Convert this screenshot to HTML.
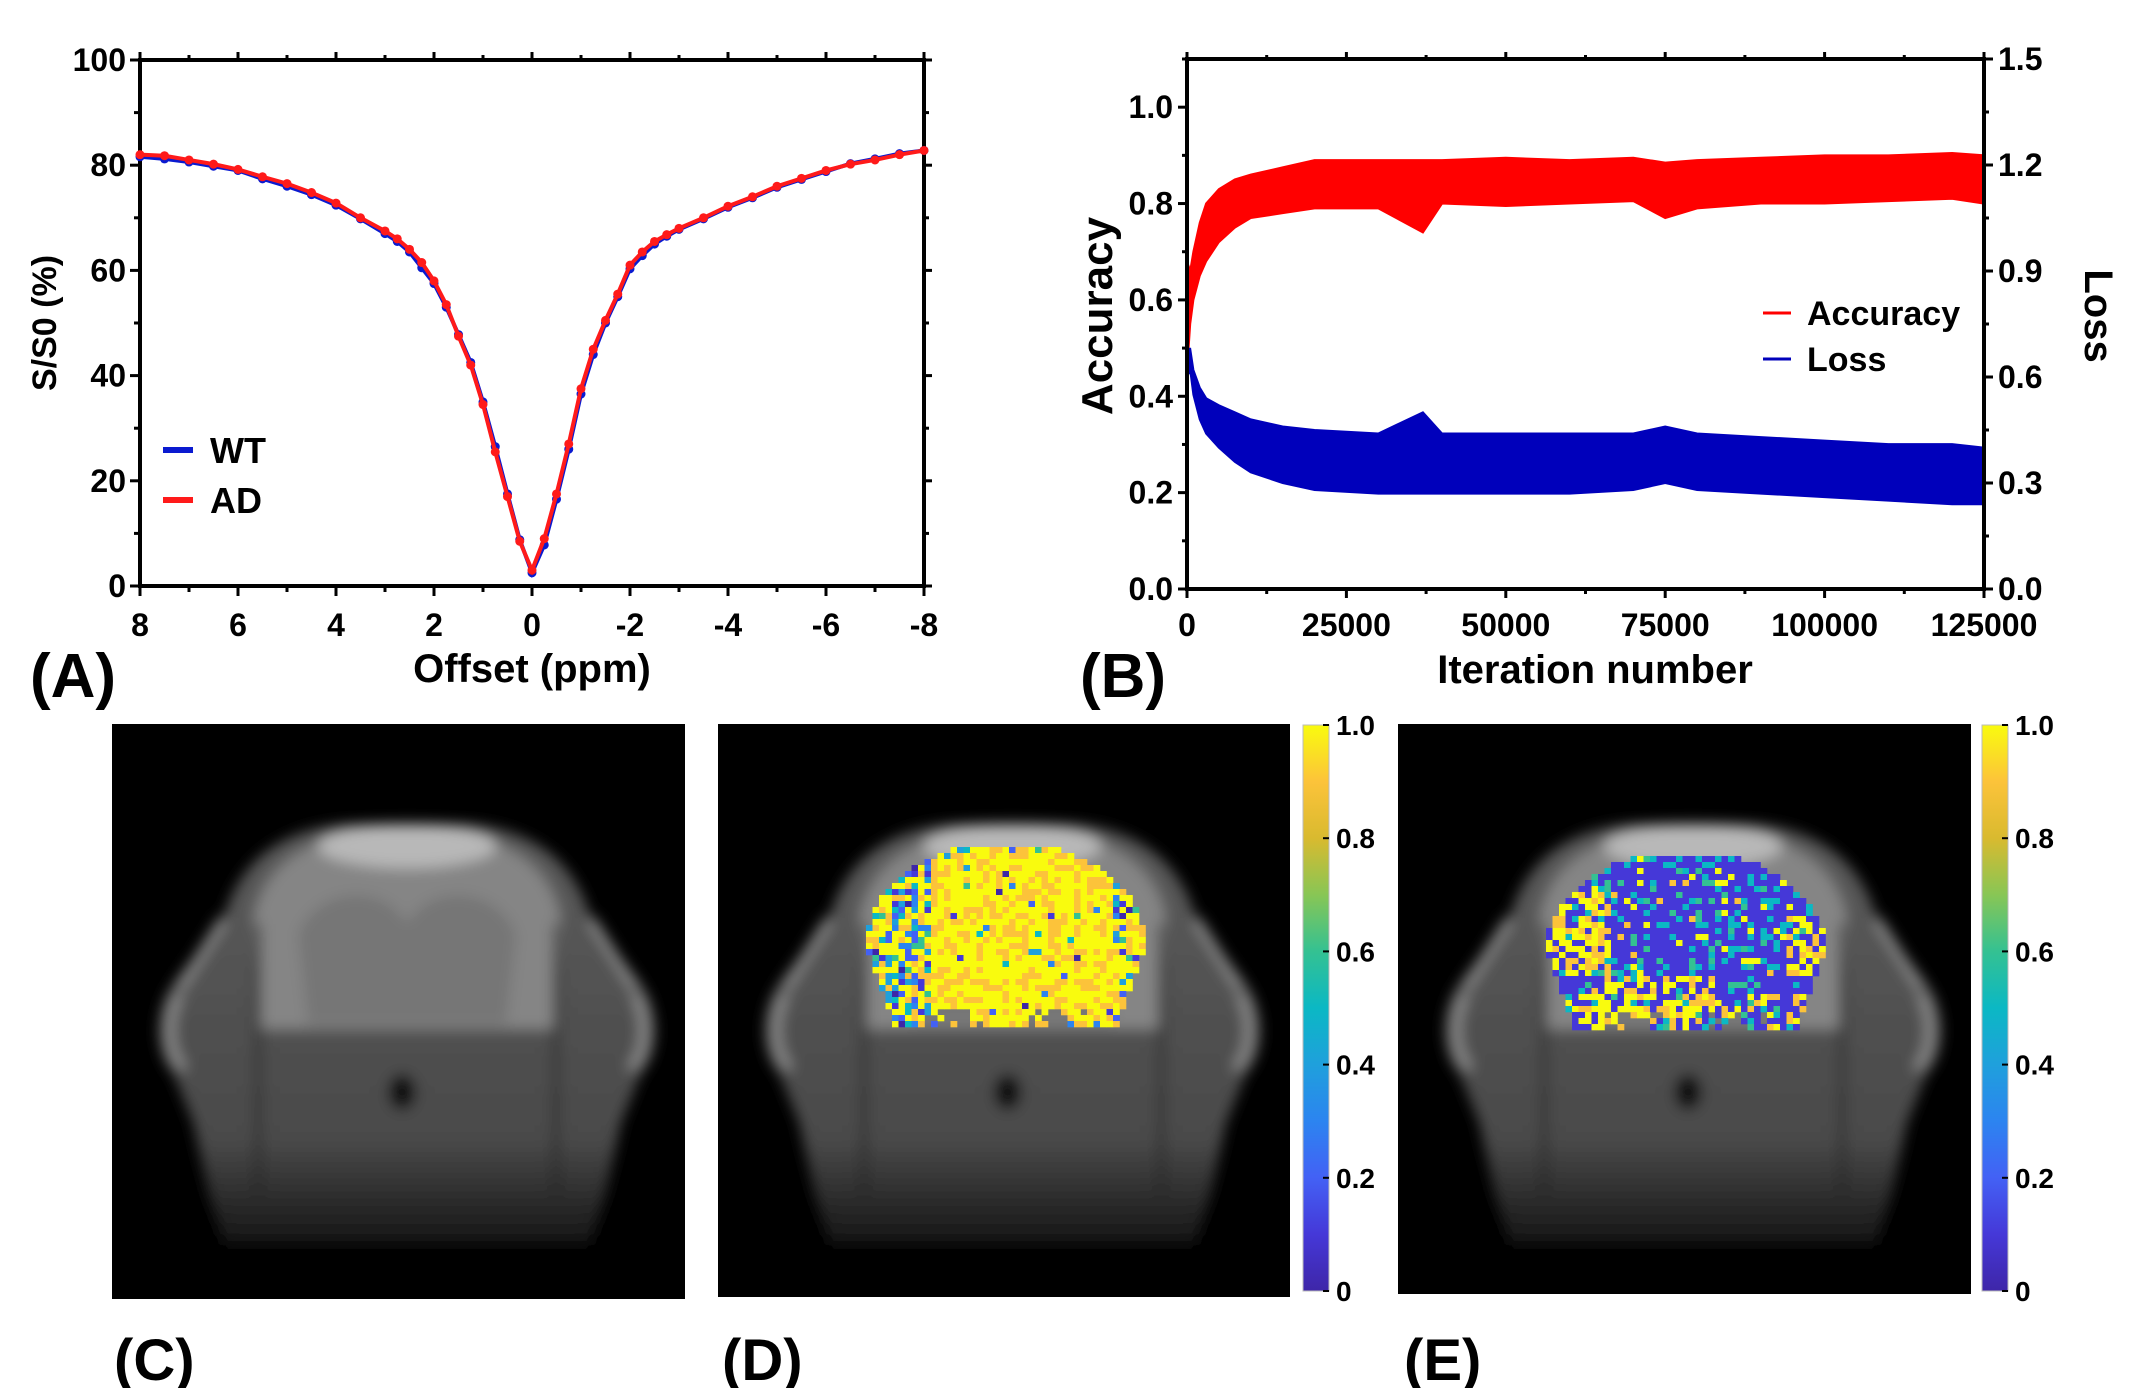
<!DOCTYPE html>
<html><head><meta charset="utf-8"><style>
html,body{margin:0;padding:0;background:#fff;}
svg text{font-family:"Liberation Sans",Arial,sans-serif;font-weight:bold;fill:#000;}
</style></head><body>
<svg id="fig" xmlns="http://www.w3.org/2000/svg" width="2133" height="1388" viewBox="0 0 2133 1388">
<defs>
<filter id="blur6"><feGaussianBlur stdDeviation="7"/></filter>
<linearGradient id="parula" x1="0" y1="1" x2="0" y2="0">
<stop offset="0" stop-color="#3e26a8"/><stop offset="0.1" stop-color="#4538d8"/><stop offset="0.2" stop-color="#4361f5"/>
<stop offset="0.3" stop-color="#2c84f0"/><stop offset="0.4" stop-color="#1fa0dc"/><stop offset="0.5" stop-color="#0bb8c4"/>
<stop offset="0.6" stop-color="#34c192"/><stop offset="0.7" stop-color="#88c655"/><stop offset="0.8" stop-color="#d9ba2f"/>
<stop offset="0.9" stop-color="#fcc33a"/><stop offset="1" stop-color="#f9fb0e"/></linearGradient>
<linearGradient id="bodyfade" x1="0" y1="0" x2="0" y2="1">
<stop offset="0" stop-color="#5a5a5a"/><stop offset="0.75" stop-color="#4a4a4a"/><stop offset="1" stop-color="#151515"/></linearGradient>
</defs>
<g id="panelA"></g>
<g id="panelB"></g>
<g id="bottom"></g>
</svg>
<script>
const NS="http://www.w3.org/2000/svg";
function mk(parent,tag,attrs,txt){const e=document.createElementNS(NS,tag);for(const k in attrs)e.setAttribute(k,attrs[k]);if(txt!==undefined)e.textContent=txt;parent.appendChild(e);return e;}

// ---------- Panel A data ----------
const offsets=[8,7.5,7,6.5,6,5.5,5,4.5,4,3.5,3,2.75,2.5,2.25,2,1.75,1.5,1.25,1,0.75,0.5,0.25,0,-0.25,-0.5,-0.75,-1,-1.25,-1.5,-1.75,-2,-2.25,-2.5,-2.75,-3,-3.5,-4,-4.5,-5,-5.5,-6,-6.5,-7,-7.5,-8];
const adValues=[82,81.8,81,80.2,79.2,77.8,76.5,74.8,72.8,70,67.5,66,64,61.5,58,53.5,47.5,42,34.5,25.5,17,8.5,3,9,17.5,27,37.5,45,50.5,55.5,61,63.5,65.5,66.8,68,70,72.2,74,76,77.5,79,80.2,81,82,82.8];
const wtValues=[81.6,81.2,80.6,79.8,79,77.4,76,74.4,72.4,69.8,67,65.5,63.5,60.5,57.5,53,47.8,42.5,35,26.5,17.5,8.8,2.5,7.8,16.5,26,36.5,44,50,55,60.3,62.8,65,66.5,67.8,69.8,72,73.8,75.8,77.3,78.8,80.3,81.2,82.2,82.8];
const aYTicks=[0,20,40,60,80,100];
const aXTicks=[8,6,4,2,0,-2,-4,-6,-8];

// ---------- Panel B data ----------
const iters=[0,500,1000,2000,3000,5000,7500,10000,15000,20000,30000,37000,40000,50000,60000,70000,75000,80000,90000,100000,110000,120000,125000];
const accUpper=[0.68,0.66,0.70,0.76,0.80,0.83,0.85,0.86,0.875,0.89,0.89,0.89,0.89,0.895,0.89,0.895,0.885,0.89,0.895,0.90,0.90,0.905,0.90];
const accLower=[0.45,0.55,0.60,0.65,0.68,0.72,0.75,0.77,0.78,0.79,0.79,0.74,0.80,0.795,0.80,0.805,0.77,0.79,0.80,0.80,0.805,0.81,0.80];
const lossUpper=[0.68,0.68,0.62,0.57,0.54,0.52,0.50,0.48,0.46,0.45,0.44,0.50,0.44,0.44,0.44,0.44,0.46,0.44,0.43,0.42,0.41,0.41,0.40];
const lossLower=[0.60,0.62,0.55,0.48,0.44,0.40,0.36,0.33,0.30,0.28,0.27,0.27,0.27,0.27,0.27,0.28,0.30,0.28,0.27,0.26,0.25,0.24,0.24];
const bXTicks=[0,25000,50000,75000,100000,125000];
const bLeftTicks=[0.0,0.2,0.4,0.6,0.8,1.0];
const bRightTicks=[0.0,0.3,0.6,0.9,1.2,1.5];
const cbTicks=[0,0.2,0.4,0.6,0.8,1.0];

// ---------- Panel A ----------
(function(){
const g=document.getElementById('panelA');
const L=140,R=924,T=60,B=586;
const x=v=>L+(8-v)/16*(R-L), y=v=>B-v/100*(B-T);
const ax=mk(g,'rect',{x:L,y:T,width:R-L,height:B-T,fill:'none',stroke:'#000','stroke-width':4});

for(let v=0;v<=100;v+=10){const t=mk(g,'line',{x1:L-(v%20?6:10),x2:L,y1:y(v),y2:y(v),stroke:'#000','stroke-width':3});

mk(g,'line',{x1:R,x2:R+(v%20?5:8),y1:y(v),y2:y(v),stroke:'#000','stroke-width':3});}
for(let v=-8;v<=8;v+=1){mk(g,'line',{x1:x(v),x2:x(v),y1:B,y2:B+(v%2?6:10),stroke:'#000','stroke-width':3});mk(g,'line',{x1:x(v),x2:x(v),y1:T,y2:T-(v%2?5:8),stroke:'#000','stroke-width':3});}
aYTicks.forEach(v=>{const t=mk(g,'text',{x:L-14,y:y(v)+11,'text-anchor':'end','font-size':32},String(v));
});
aXTicks.forEach(v=>{const t=mk(g,'text',{x:x(v),y:B+50,'text-anchor':'middle','font-size':32},String(v));
});
const xt=mk(g,'text',{x:(L+R)/2,y:682,'text-anchor':'middle','font-size':40},'Offset (ppm)');

const yt=mk(g,'text',{x:0,y:0,'text-anchor':'middle','font-size':34,transform:`translate(56,${(T+B)/2}) rotate(-90)`},'S/S0 (%)');

const pl=mk(g,'text',{x:30,y:697,'font-size':62},'(A)');

function series(vals,col,name){
 const sg=mk(g,'g',{});
 mk(sg,'polyline',{points:offsets.map((o,i)=>x(o)+','+y(vals[i])).join(' '),fill:'none',stroke:col,'stroke-width':4});
 offsets.forEach((o,i)=>{const c=mk(sg,'circle',{cx:x(o),cy:y(vals[i]),r:4.5,fill:col});
 });
}
series(wtValues,'#0a1ad0','series-wt');
series(adValues,'#ff1a1a','series-ad');
const lg=mk(g,'g',{});
mk(lg,'line',{x1:163,x2:193,y1:450,y2:450,stroke:'#0a1ad0','stroke-width':6});
mk(lg,'text',{x:210,y:463,'font-size':36},'WT');
mk(lg,'line',{x1:163,x2:193,y1:500,y2:500,stroke:'#ff1a1a','stroke-width':6});
mk(lg,'text',{x:210,y:513,'font-size':36},'AD');
})();

// ---------- Panel B ----------
(function(){
const g=document.getElementById('panelB');
const L=1187,R=1984,T=59,B=589;
const x=v=>L+v/125000*(R-L), yl=v=>B-v/1.1*(B-T), yr=v=>B-v/1.5*(B-T);
function band(up,lo,ys,col,name){
 const pts=iters.map((it,i)=>x(it)+','+ys(up[i])).concat(iters.map((it,i)=>[x(it),ys(lo[i])]).reverse().map(p=>p.join(',')));
 const p=mk(g,'polygon',{points:pts.join(' '),fill:col,stroke:col,'stroke-width':2});
 
}
band(accUpper,accLower,yl,'#ff0000','accuracy-series');
band(lossUpper,lossLower,yr,'#0000bb','loss-series');
mk(g,'rect',{x:L,y:T,width:R-L,height:B-T,fill:'none',stroke:'#000','stroke-width':4});
for(let v=0;v<=1.1001;v+=0.1){mk(g,'line',{x1:L-(Math.round(v*10)%2?5:9),x2:L,y1:yl(v),y2:yl(v),stroke:'#000','stroke-width':3});}
for(let v=0;v<=1.5001;v+=0.15){mk(g,'line',{x1:R,x2:R+(Math.round(v*100)%30?5:9),y1:yr(v),y2:yr(v),stroke:'#000','stroke-width':3});}
for(let v=0;v<=125000;v+=12500){mk(g,'line',{x1:x(v),x2:x(v),y1:B,y2:B+(v%25000?5:9),stroke:'#000','stroke-width':3});mk(g,'line',{x1:x(v),x2:x(v),y1:T,y2:T-(v%25000?4:7),stroke:'#000','stroke-width':3});}
bLeftTicks.forEach(v=>{const t=mk(g,'text',{x:L-14,y:yl(v)+11,'text-anchor':'end','font-size':32},v.toFixed(1));
});
bRightTicks.forEach(v=>{const t=mk(g,'text',{x:R+14,y:yr(v)+11,'font-size':32},v.toFixed(1));
});
bXTicks.forEach(v=>{const t=mk(g,'text',{x:x(v),y:B+47,'text-anchor':'middle','font-size':32},String(v));
});
const xt=mk(g,'text',{x:1595,y:683,'text-anchor':'middle','font-size':40},'Iteration number');

const yt=mk(g,'text',{x:0,y:0,'text-anchor':'middle','font-size':44,transform:`translate(1112,${(T+B)/2-8}) rotate(-90)`},'Accuracy');

const yt2=mk(g,'text',{x:0,y:0,'text-anchor':'middle','font-size':40,transform:`translate(2085,${(T+B)/2-8}) rotate(90)`},'Loss');

const pl=mk(g,'text',{x:1080,y:697,'font-size':62},'(B)');

const lg=mk(g,'g',{});
mk(lg,'line',{x1:1763,x2:1791,y1:313,y2:313,stroke:'#ff0000','stroke-width':3});
mk(lg,'text',{x:1807,y:325,'font-size':34},'Accuracy');
mk(lg,'line',{x1:1763,x2:1791,y1:359,y2:359,stroke:'#0000bb','stroke-width':3});
mk(lg,'text',{x:1807,y:371,'font-size':34},'Loss');
})();

// ---------- Bottom MRI panels ----------
function hash(a,b,s){let h=(a*374761393+b*668265263+s*2147483647)|0;h=(h^(h>>>13))*1274126177|0;h=h^(h>>>16);return ((h>>>0)%10000)/10000;}
const parula=['#3e26a8','#4538d8','#4361f5','#2c84f0','#1fa0dc','#0bb8c4','#34c192','#88c655','#d9ba2f','#fcc33a','#f9fb0e'];
function mri(g,X,Y,W,H,name){
 const s=W/577;
 const gg=mk(g,'g',{});
 mk(gg,'rect',{x:X,y:Y,width:W,height:H,fill:'#000'});
 const cx=X+W*0.515;
 const tr=`translate(${cx},${Y}) scale(${s},1)`;
 const body=mk(gg,'g',{transform:tr,filter:'url(#blur6)'});
 mk(body,'path',{d:'M-60,100 C-130,105 -170,140 -185,195 L-235,260 C-255,285 -255,330 -235,350 L-215,400 L-200,470 L-185,520 L185,520 L200,470 L215,400 L235,350 C255,330 255,285 235,260 L185,195 C170,140 130,105 60,100 Z',fill:'url(#bodyfade)'});
 mk(body,'path',{d:'M-230,270 C-245,300 -240,330 -225,345 M230,270 C245,300 240,330 225,345',stroke:'#8a8a8a','stroke-width':10,fill:'none'});
 mk(body,'path',{d:'M-185,195 L-230,265 M185,195 L230,265',stroke:'#8f8f8f','stroke-width':8,fill:'none'});
 mk(body,'path',{d:'M-40,108 C-110,115 -150,150 -155,200 L-150,305 L150,305 L155,200 C150,150 110,115 40,108 Z',fill:'#858585'});
 mk(body,'path',{d:'M-110,210 C-90,160 -20,160 0,200 C20,160 90,160 110,210 L100,300 L-100,300 Z',fill:'#767676'});
 mk(body,'ellipse',{cx:0,cy:122,rx:90,ry:22,fill:'#b8b8b8'});
 mk(body,'ellipse',{cx:-5,cy:368,rx:14,ry:18,fill:'#0a0a0a'});
 mk(body,'line',{x1:-150,y1:200,x2:-150,y2:470,stroke:'#222','stroke-width':5});
 mk(body,'line',{x1:150,y1:200,x2:150,y2:470,stroke:'#222','stroke-width':5});
}
(function(){
const g=document.getElementById('bottom');
mri(g,112,724,573,575,'mri-image-c');
mri(g,718,724,572,573,'mri-image-d');
mri(g,1398,724,573,570,'mri-image-e');
function overlay(X0,X1,Y0,Y1,fn,name){
 const og=mk(g,'g',{});
 const cw=6.5,ch=6;const nx=Math.round((X1-X0)/cw),ny=Math.round((Y1-Y0)/ch);
 for(let j=0;j<ny;j++)for(let i=0;i<nx;i++){
  const u=(i+0.5)/nx*2-1,v=(j+0.5)/ny;
  const halfw=v<0.55?Math.sqrt(Math.max(0,1-Math.pow((0.55-v)/0.58,2))):1-(v-0.55)*0.45;
  if(Math.abs(u)>halfw)continue;
  if(v>0.9&&hash(i,j,7)<0.5&&Math.abs(u)<0.6&&Math.abs(u)>0.1)continue;
  const val=fn(u,v,i,j);
  mk(og,'rect',{x:X0+i*cw,y:Y0+j*ch,width:cw+0.3,height:ch+0.3,fill:parula[Math.max(0,Math.min(10,Math.round(val*10)))]});
 }
}
overlay(866,1148,847,1027,(u,v,i,j)=>{const r=hash(i,j,1);const edge=(u<-0.55)?0.45:(Math.abs(u)>0.75?0.3:0.04);
 if(r<edge)return hash(i,j,2)*0.6;return hash(i,j,3)<0.65?1.0:0.9;},'probability-map-d');
overlay(1546,1826,856,1027,(u,v,i,j)=>{const r=hash(i,j,4);
 let py=0.06;if(u<-0.55&&v>0.2&&v<0.7)py=0.6;if(u>0.7&&v>0.35&&v<0.7)py=0.55;if(v>0.68&&u>-0.6&&u<0.2)py=0.6;if(v>0.8)py=Math.max(py,0.4);
 if(r<py)return hash(i,j,5)<0.6?1.0:0.9;const q=hash(i,j,6);return q<0.75?0.05+q*0.08:q*0.6;},'probability-map-e');
function cbar(X,Y,H,name){
 const cg=mk(g,'g',{});
 mk(cg,'rect',{x:X,y:Y,width:26,height:H,fill:'url(#parula)',stroke:'#bbb','stroke-width':1});
 const yc=v=>Y+H-v*H;
 cbTicks.forEach(v=>{mk(cg,'line',{x1:X+20,x2:X+26,y1:yc(v),y2:yc(v),stroke:'#000','stroke-width':2});
 const t=mk(cg,'text',{x:X+33,y:yc(v)+10,'font-size':28},v===0?'0':v.toFixed(1));
 });
}
cbar(1303,725,566,'colorbar-d');
cbar(1982,725,566,'colorbar-e');
[['(C)',114,'panel-label-c'],['(D)',722,'panel-label-d'],['(E)',1404,'panel-label-e']].forEach(a=>{
 const t=mk(g,'text',{x:a[1],y:1380,'font-size':58},a[0]);});
})();
</script>
</body></html>
